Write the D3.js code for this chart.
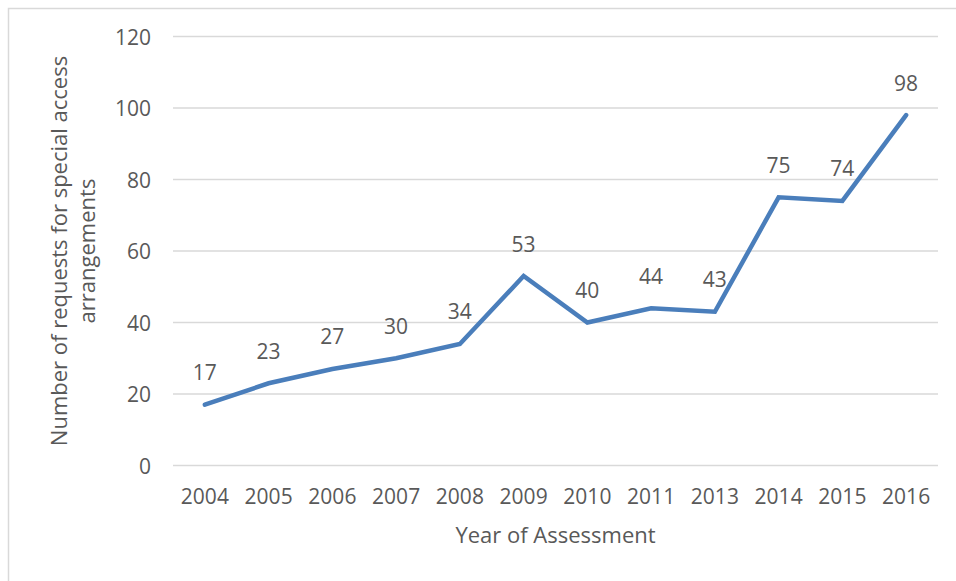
<!DOCTYPE html>
<html>
<head>
<meta charset="utf-8">
<script src="https://cdn.jsdelivr.net/npm/d3@7"></script>
<style>
  html, body { margin: 0; padding: 0; background: #fff; }
  svg { display: block; }
  text { font-family: "Open Sans", "Noto Sans", sans-serif; fill: #595959; }
</style>
</head>
<body>
<svg id="chart" width="956" height="581"></svg>
<script>
const categories = ["2004","2005","2006","2007","2008","2009","2010","2011","2013","2014","2015","2016"];
const requests = [17, 23, 27, 30, 34, 53, 40, 44, 43, 75, 74, 98];
const yTicks = [0, 20, 40, 60, 80, 100, 120];
const xTitle = "Year of Assessment";
const yTitleLines = ["Number of requests for special access", "arrangements"];

const svg = d3.select("#chart");

// outer chart border (cut at right/bottom as in the reference)
svg.append("rect")
  .attr("x", 8.5).attr("y", 8.5)
  .attr("width", 960).attr("height", 600)
  .attr("fill", "none").attr("stroke", "#d9d9d9").attr("stroke-width", 1.5);

const x = d3.scaleBand().domain(categories).range([173, 938]);
const y = d3.scaleLinear().domain([0, 120]).range([465.5, 36.5]);

// gridlines
svg.append("g").selectAll("line").data(yTicks).join("line")
  .attr("x1", 173).attr("x2", 938)
  .attr("y1", d => y(d)).attr("y2", d => y(d))
  .attr("stroke", "#d9d9d9").attr("stroke-width", 1.5);

// y axis
const yAxis = svg.append("g").attr("transform", "translate(151,0)")
  .call(d3.axisLeft(y).tickValues(yTicks).tickSize(0).tickPadding(0));
yAxis.select(".domain").remove();
yAxis.selectAll("text")
  .attr("font-size", "21px").attr("font-family", null).attr("fill", "#595959")
  .attr("dy", "0.36em");

// x axis
const xAxis = svg.append("g").attr("transform", "translate(0,465.5)")
  .call(d3.axisBottom(x).tickSize(0).tickPadding(0));
xAxis.select(".domain").remove();
xAxis.selectAll("text")
  .attr("font-size", "21px").attr("font-family", null).attr("fill", "#595959")
  .attr("dy", null).attr("y", 38.5);

// line
const line = d3.line()
  .x((d, i) => x(categories[i]) + x.bandwidth() / 2)
  .y(d => y(d));
svg.append("path").datum(requests)
  .attr("d", line)
  .attr("fill", "none")
  .attr("stroke", "#4a7ebb")
  .attr("stroke-width", 4.5)
  .attr("stroke-linejoin", "miter")
  .attr("stroke-linecap", "round");

// data labels
svg.append("g").selectAll("text").data(requests).join("text")
  .attr("x", (d, i) => x(categories[i]) + x.bandwidth() / 2)
  .attr("y", d => y(d) - 24.5)
  .attr("text-anchor", "middle")
  .attr("font-size", "21px")
  .text(d => d);

// x title
svg.append("text")
  .attr("x", 555.5).attr("y", 542.5)
  .attr("text-anchor", "middle")
  .attr("font-size", "22px")
  .text(xTitle);

// y title
const yt = svg.append("text")
  .attr("transform", "translate(67,251) rotate(-90)")
  .attr("text-anchor", "middle")
  .attr("font-size", "22px");
yTitleLines.forEach((t, i) => {
  yt.append("tspan").attr("x", 0).attr("y", i * 28).text(t);
});
</script>
</body>
</html>
